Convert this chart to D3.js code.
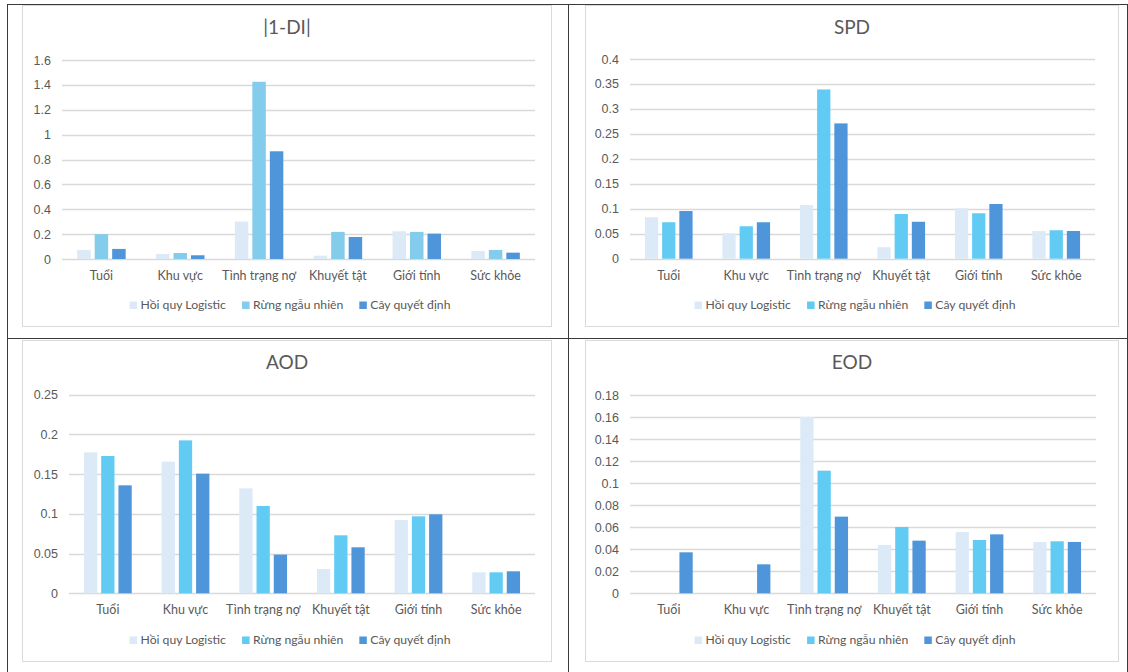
<!DOCTYPE html>
<html>
<head>
<meta charset="utf-8">
<script src="https://cdn.jsdelivr.net/npm/d3@7/dist/d3.min.js"></script>
<style>
  html, body { margin: 0; padding: 0; background: #fff; }
  svg { display: block; }
  text { font-family: "Lato", "Noto Sans", sans-serif; fill: #595959; }
</style>
</head>
<body>
<svg id="chart" width="1128" height="672"></svg>
<script>
// Sensitive attributes shown on every chart
const categories = ["Tuổi", "Khu vực", "Tình trạng nợ", "Khuyết tật", "Giới tính", "Sức khỏe"];
const models = ["Hồi quy Logistic", "Rừng ngẫu nhiên", "Cây quyết định"];

// |1-DI|
const diLogistic = [0.073, 0.040, 0.301, 0.027, 0.223, 0.065];
const diForest   = [0.199, 0.048, 1.425, 0.218, 0.218, 0.073];
const diTree     = [0.081, 0.030, 0.866, 0.177, 0.204, 0.051];
const diTicks    = [0, 0.2, 0.4, 0.6, 0.8, 1, 1.2, 1.4, 1.6];

// SPD
const spdLogistic = [0.083, 0.051, 0.1075, 0.023, 0.101, 0.0555];
const spdForest   = [0.073, 0.065, 0.339, 0.0895, 0.091, 0.057];
const spdTree     = [0.0955, 0.073, 0.271, 0.074, 0.1095, 0.0555];
const spdTicks    = [0, 0.05, 0.1, 0.15, 0.2, 0.25, 0.3, 0.35, 0.4];

// AOD
const aodLogistic = [0.1774, 0.1657, 0.1321, 0.0306, 0.0923, 0.0264];
const aodForest   = [0.1728, 0.1925, 0.1099, 0.073, 0.0969, 0.0264];
const aodTree     = [0.1359, 0.1506, 0.0487, 0.0579, 0.0994, 0.0277];
const aodTicks    = [0, 0.05, 0.1, 0.15, 0.2, 0.25];

// EOD
const eodLogistic = [0, 0, 0.160, 0.0439, 0.0557, 0.0466];
const eodForest   = [0, 0, 0.1113, 0.0602, 0.0484, 0.0472];
const eodTree     = [0.0372, 0.0263, 0.0696, 0.0478, 0.0535, 0.0466];
const eodTicks    = [0, 0.02, 0.04, 0.06, 0.08, 0.1, 0.12, 0.14, 0.16, 0.18];

const svg = d3.select("#chart");
const ink = "#595959";

// Page table grid around the four charts
const gridLines = [
  [7, 4.5, 1128, 4.5], [7, 338.5, 1128, 338.5],
  [7.5, 4, 7.5, 672], [568.5, 4, 568.5, 672], [1127.5, 4, 1127.5, 672]
];
svg.append("g").selectAll("line").data(gridLines).join("line")
  .attr("x1", d => d[0]).attr("y1", d => d[1]).attr("x2", d => d[2]).attr("y2", d => d[3])
  .attr("stroke", "#3a3a3a").attr("stroke-width", 1);

const panels = [
  { title: "|1-DI|", series: [diLogistic, diForest, diTree], ticks: diTicks,
    colors: ["#DCEAF7", "#83CCEB", "#4E95D9"],
    box: { x0: 22.5, y0: 5.5, x1: 551.5, y1: 326.5 },
    plot: { x0: 62, y0: 60, x1: 535, y1: 259 } },
  { title: "SPD", series: [spdLogistic, spdForest, spdTree], ticks: spdTicks,
    colors: ["#DCEAF7", "#61CBF3", "#4E95D9"],
    box: { x0: 585.5, y0: 5.5, x1: 1118.5, y1: 326.5 },
    plot: { x0: 630, y0: 59, x1: 1095, y1: 258.7 } },
  { title: "AOD", series: [aodLogistic, aodForest, aodTree], ticks: aodTicks,
    colors: ["#DCEAF7", "#61CBF3", "#4E95D9"],
    box: { x0: 22.5, y0: 340.5, x1: 551.5, y1: 661.5 },
    plot: { x0: 69, y0: 394.7, x1: 535, y1: 593.3 } },
  { title: "EOD", series: [eodLogistic, eodForest, eodTree], ticks: eodTicks,
    colors: ["#DCEAF7", "#61CBF3", "#4E95D9"],
    box: { x0: 585.5, y0: 340.5, x1: 1118.5, y1: 661.5 },
    plot: { x0: 630, y0: 395, x1: 1096, y1: 593.3 } }
];

panels.forEach(drawPanel);

function drawPanel(p) {
  const g = svg.append("g");
  const { box, plot } = p;

  // chart frame
  g.append("rect")
    .attr("x", box.x0).attr("y", box.y0)
    .attr("width", box.x1 - box.x0).attr("height", box.y1 - box.y0)
    .attr("fill", "#fff").attr("stroke", "#D9D9D9").attr("stroke-width", 1);

  const cx = (box.x0 + box.x1) / 2;

  g.append("text")
    .attr("x", cx).attr("y", box.y0 + 24)
    .attr("text-anchor", "middle").attr("dominant-baseline", "middle")
    .style("font-size", "19px")
    .text(p.title);

  const y = d3.scaleLinear()
    .domain([0, p.ticks[p.ticks.length - 1]])
    .range([plot.y1, plot.y0]);

  const x0 = d3.scaleBand().domain(categories).range([plot.x0, plot.x1]).padding(0);
  const groupW = x0.bandwidth() * 0.615;
  const x1 = d3.scaleBand().domain(models)
    .range([(x0.bandwidth() - groupW) / 2, (x0.bandwidth() + groupW) / 2])
    .paddingInner(0.23).paddingOuter(0);

  // horizontal gridlines
  g.append("g").selectAll("line").data(p.ticks).join("line")
    .attr("x1", plot.x0).attr("x2", plot.x1)
    .attr("y1", d => Math.round(y(d)) + 0.5).attr("y2", d => Math.round(y(d)) + 0.5)
    .attr("stroke", "#D9D9D9").attr("stroke-width", 1.3);

  // value axis labels
  const yAxis = d3.axisLeft(y).tickValues(p.ticks).tickSize(0).tickPadding(11)
    .tickFormat(d => String(d));
  const ya = g.append("g").attr("transform", `translate(${plot.x0},0)`).call(yAxis);
  ya.select(".domain").remove();
  ya.selectAll("text").style("font-size", "12.5px").attr("fill", ink)
    .style("font-family", "'Liberation Sans', Arial, sans-serif");

  // bars
  const rows = categories.map((c, i) => ({ cat: c, vals: models.map((m, k) => ({ model: m, k, v: p.series[k][i] })) }));
  g.append("g").selectAll("g").data(rows).join("g")
    .attr("transform", d => `translate(${x0(d.cat)},0)`)
    .selectAll("rect").data(d => d.vals.filter(v => v.v > 0)).join("rect")
    .attr("x", d => x1(d.model))
    .attr("width", x1.bandwidth())
    .attr("y", d => y(d.v))
    .attr("height", d => y(0) - y(d.v))
    .attr("fill", d => p.colors[d.k]);

  // category axis labels
  const xAxis = d3.axisBottom(x0).tickSize(0).tickPadding(12);
  const xa = g.append("g").attr("transform", `translate(0,${plot.y1})`).call(xAxis);
  xa.select(".domain").remove();
  xa.selectAll("text").style("font-size", "12.5px").attr("fill", ink)
    .style("font-family", "Lato, 'Noto Sans', sans-serif");

  // legend, centred under the chart
  const ly = box.y0 + 300;
  const leg = g.append("g");
  const items = leg.selectAll("g").data(models).join("g");
  items.append("rect").attr("width", 7.5).attr("height", 7.5).attr("y", ly - 4)
    .attr("fill", (d, i) => p.colors[i]);
  items.append("text").attr("x", 11).attr("y", ly)
    .attr("dominant-baseline", "middle")
    .style("font-size", "12.2px").text(d => d);
  let off = 0;
  const gap = 16;
  items.each(function () {
    const w = this.getBBox().width;
    d3.select(this).attr("transform", `translate(${off},0)`);
    off += w + gap;
  });
  const total = off - gap;
  leg.attr("transform", `translate(${cx - total / 2 + 3},0)`);
}
</script>
</body>
</html>
